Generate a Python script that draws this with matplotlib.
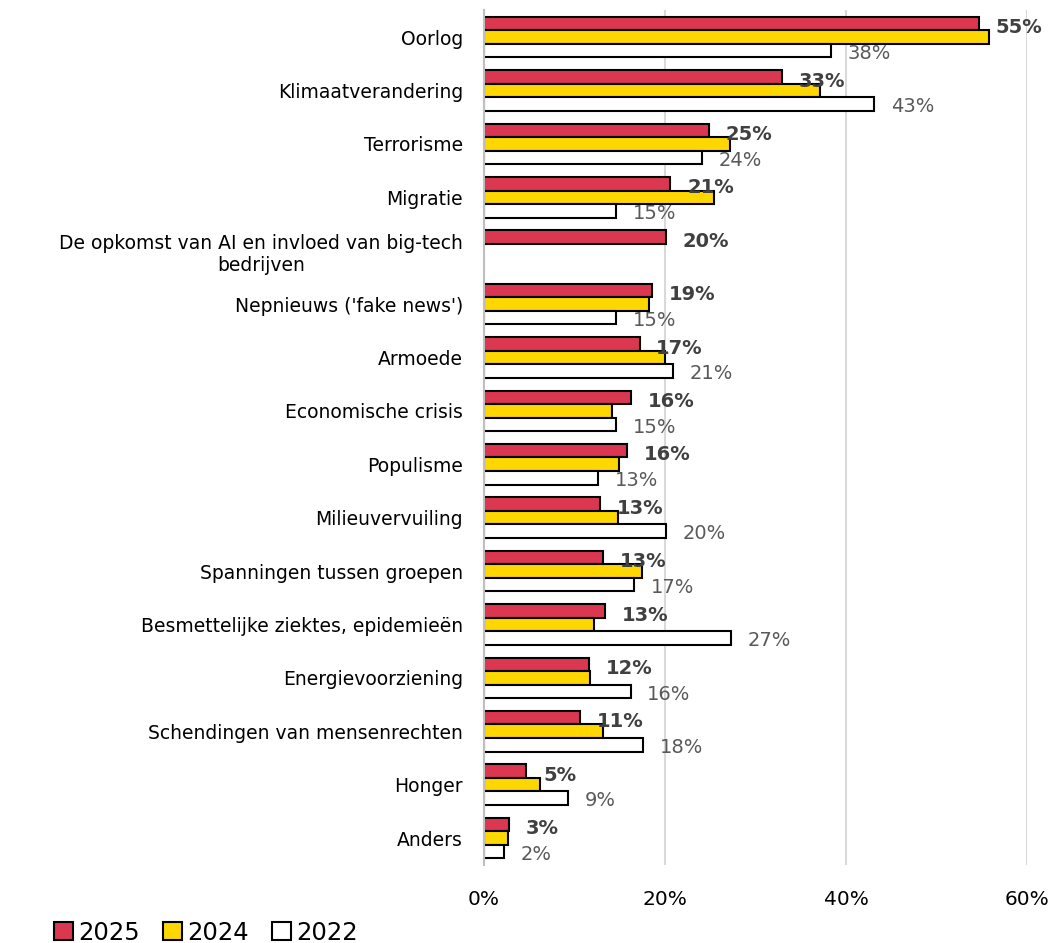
import numpy as np
import matplotlib
matplotlib.use("Agg")
import matplotlib.pyplot as plt
from matplotlib.patches import Patch

categories = [
    "Oorlog",
    "Klimaatverandering",
    "Terrorisme",
    "Migratie",
    "De opkomst van AI en invloed van big-tech\nbedrijven",
    "Nepnieuws ('fake news')",
    "Armoede",
    "Economische crisis",
    "Populisme",
    "Milieuvervuiling",
    "Spanningen tussen groepen",
    "Besmettelijke ziektes, epidemieën",
    "Energievoorziening",
    "Schendingen van mensenrechten",
    "Honger",
    "Anders",
]
vals_2025 = [54.7, 32.9, 24.9, 20.6, 20.1, 18.6, 17.2, 16.3, 15.8, 12.8, 13.2, 13.4, 11.6, 10.6, 4.7, 2.8]
vals_2024 = [55.8, 37.1, 27.2, 25.4, np.nan, 18.2, 20.0, 14.1, 14.9, 14.8, 17.5, 12.2, 11.7, 13.1, 6.2, 2.7]
vals_2022 = [38.3, 43.1, 24.1, 14.6, np.nan, 14.6, 20.9, 14.6, 12.6, 20.1, 16.6, 27.3, 16.2, 17.6, 9.3, 2.2]
series_names = ["2025", "2024", "2022"]
colors = ["#DC3751", "#FFD700", "#FFFFFF"]
xticks = [0, 20, 40, 60]

plt.rcParams['font.family'] = ['DejaVu Sans']

fig = plt.figure(figsize=(10.53, 9.43), dpi=100)
ax = fig.add_axes([0.4596, 0.083, 0.5157, 0.906])

y = np.arange(len(categories))
h = 0.253
data = [vals_2025, vals_2024, vals_2022]
for i, (vals, col) in enumerate(zip(data, colors)):
    ax.barh(y + (i - 1) * h, vals, height=h, color=col, edgecolor="black",
            linewidth=1.5, zorder=3)

# data labels
for yi, v in zip(y, vals_2025):
    ax.annotate(f"{round(v)}%", (v, yi - h), xytext=(12, -3), textcoords="offset points",
                ha="left", va="center", fontsize=14, fontweight="bold", color="#404040")
for yi, v in zip(y, vals_2022):
    if np.isnan(v):
        continue
    ax.annotate(f"{round(v)}%", (v, yi + h), xytext=(12, -2), textcoords="offset points",
                ha="left", va="center", fontsize=14, color="#595959")

ax.set_yticks(y)
ax.set_yticklabels(categories, fontsize=13.5, multialignment="center")
ax.set_ylim(len(categories) - 0.5, -0.5)
ax.set_xlim(0, 60)
ax.set_xticks(xticks)
ax.set_xticklabels([f"{t}%" for t in xticks], fontsize=14.5)
ax.tick_params(axis="both", length=0)
ax.tick_params(axis="y", pad=15)
ax.tick_params(axis="x", pad=18)

ax.grid(axis="x", color="#D9D9D9", linewidth=1.5, zorder=0)
for s in ["top", "right", "bottom"]:
    ax.spines[s].set_visible(False)
ax.spines["left"].set_color("#BFBFBF")
ax.spines["left"].set_linewidth(1.5)
ax.spines["left"].set_zorder(4)

handles = [Patch(facecolor=c, edgecolor="black", linewidth=1.5) for c in colors]
fig.legend(handles, series_names, loc="lower left", bbox_to_anchor=(0.042, -0.012),
           ncol=3, frameon=False, fontsize=17.5, handlelength=0.8, handleheight=0.8,
           handletextpad=0.2, columnspacing=0.95, borderaxespad=0)

fig.savefig("out.png", dpi=100)
